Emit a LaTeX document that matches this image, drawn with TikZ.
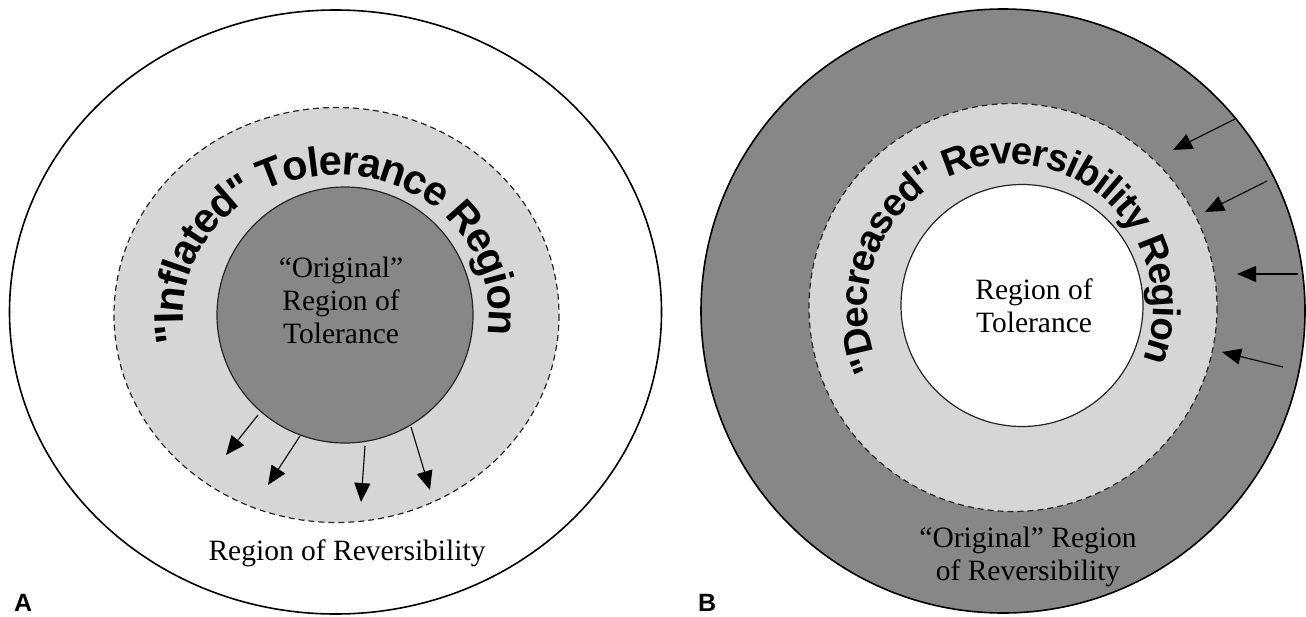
\documentclass[tikz,border=0pt]{standalone}
\usepackage{fontspec}
\setmainfont{Liberation Serif}
\setsansfont{Liberation Sans}
\newfontfamily\arcsans{Liberation Sans}[Ligatures=TeXOff]
\usetikzlibrary{arrows.meta, decorations.text}

\definecolor{ringdark}{gray}{0.53}
\definecolor{ringlight}{gray}{0.84}

\newcommand{\arcfontA}{\arcsans\bfseries\fontsize{41.5}{42}\selectfont}
\newcommand{\arcfontB}{\arcsans\bfseries\fontsize{38.5}{39}\selectfont}

\begin{document}
\begin{tikzpicture}[x=1pt, y=-1pt,
    rim/.style={draw=black, line width=1.6pt},
    zone/.style={draw=black!85, line width=1.2pt, dash pattern=on 6pt off 4pt},
    core/.style={draw=black!85, line width=1.2pt},
    push/.style={-{Triangle[length=19pt, width=16pt]}, line width=1.1pt},
    lbl/.style={font=\fontsize{29.5}{33}\selectfont, align=center, inner sep=0pt, anchor=base},
    panel/.style={font=\sffamily\bfseries\fontsize{25}{25}\selectfont, inner sep=0pt, anchor=base west},
  ]
  \useasboundingbox (0,0) rectangle (1306,616);

  % panel A
  \filldraw[rim, fill=white] (335.5,312) ellipse [x radius=326, y radius=302];
  \filldraw[zone, fill=ringlight] (336.5,315) ellipse [x radius=222.5, y radius=207.5];
  \filldraw[core, fill=ringdark] (345,315) circle [radius=128];

  \coordinate (cA) at (336,315);
  \path (cA) ++(-191:165 and 152) coordinate (tA);
  \path[decorate, decoration={text along path, text align=center, raise=-12pt,
      text={|\arcfontA|"Inflated" Tolerance Region}}]
    (tA) arc [start angle=-191, end angle=8, x radius=165, y radius=152];

  \node[lbl] (origtol) at (341,343) {“Original”\\Region of\\Tolerance};
  \node[lbl] (revA) at (347,560) {Region of Reversibility};

  \coordinate (a1s) at (258,415); \coordinate (a1e) at (226,455);
  \coordinate (a2s) at (300,436); \coordinate (a2e) at (268,485);
  \coordinate (a3s) at (365,446); \coordinate (a3e) at (361,502);
  \coordinate (a4s) at (411,427); \coordinate (a4e) at (430,490);
  \draw[push] (a1s) -- (a1e);
  \draw[push] (a2s) -- (a2e);
  \draw[push] (a3s) -- (a3e);
  \draw[push] (a4s) -- (a4e);

  \node[panel] (labA) at (14,611) {A};

  % panel B
  \filldraw[rim, fill=ringdark] (1003,311) circle [radius=302];
  \filldraw[zone, fill=ringlight] (1013,307.5) circle [radius=204];
  \filldraw[core, fill=white] (1022,305.5) circle [radius=121];

  \coordinate (cB) at (1010,307);
  \path (cB) ++(-205:155) coordinate (tB);
  \path[decorate, decoration={text along path, text align=center, raise=-12pt,
      text={|\arcfontB|"Decreased" Reversibility Region}}]
    (tB) arc [start angle=-205, end angle=21.5, radius=155];

  \node[lbl] (tolB) at (1034,332) {Region of\\Tolerance};
  \node[lbl] (revB) at (1028,580) {“Original” Region\\of Reversibility};

  \coordinate (b1s) at (1235,119); \coordinate (b1e) at (1173,150);
  \coordinate (b2s) at (1267,181); \coordinate (b2e) at (1205,212);
  \coordinate (b3s) at (1298,274); \coordinate (b3e) at (1237,274);
  \coordinate (b4s) at (1283,367); \coordinate (b4e) at (1222,352);
  \draw[push] (b1s) -- (b1e);
  \draw[push] (b2s) -- (b2e);
  \draw[push] (b3s) -- (b3e);
  \draw[push] (b4s) -- (b4e);

  \node[panel] (labB) at (698,611) {B};
\end{tikzpicture}
\end{document}
